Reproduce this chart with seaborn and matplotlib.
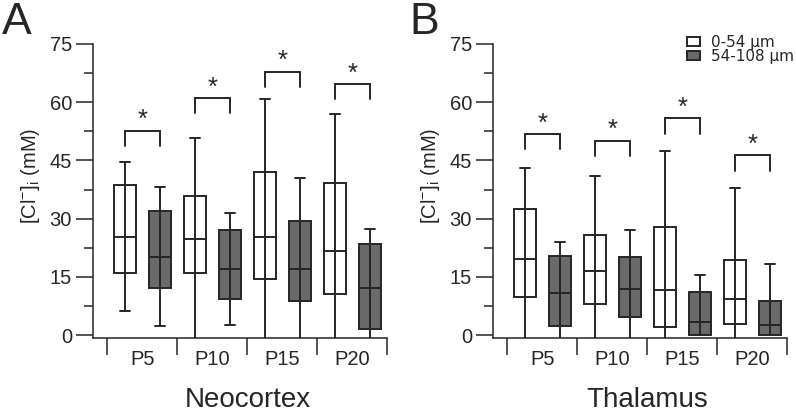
import numpy as np
import pandas as pd
import matplotlib
matplotlib.use("Agg")
import matplotlib.pyplot as plt
import seaborn as sns
from matplotlib.patches import Patch

ages = ["P5", "P10", "P15", "P20"]
depths = ["0-54 \u03bcm", "54-108 \u03bcm"]

# five-number summaries per age: min, q1, median, q3, max  ([Cl-]i, mM)
neo_shallow = [[6.1, 15.9, 25.4, 38.6, 44.5],
               [0.0, 15.9, 24.8, 35.9, 50.9],
               [0.0, 14.5, 25.3, 41.9, 60.8],
               [0.0, 10.7, 21.7, 39.2, 56.9]]
neo_deep = [[2.3, 12.1, 20.2, 31.9, 38.2],
            [2.6, 9.4, 17.0, 27.2, 31.4],
            [0.0, 8.8, 17.1, 29.5, 40.4],
            [0.0, 1.5, 12.2, 23.5, 27.3]]
thal_shallow = [[0.0, 9.9, 19.6, 32.6, 43.1],
                [0.0, 8.1, 16.4, 25.9, 41.1],
                [0.0, 2.0, 11.7, 27.9, 47.3],
                [0.0, 2.9, 9.4, 19.3, 37.9]]
thal_deep = [[0.0, 2.3, 10.9, 20.3, 24.1],
             [0.0, 4.8, 11.9, 20.0, 27.2],
             [0.0, 0.0, 3.5, 11.2, 15.6],
             [0.0, 0.0, 2.5, 8.8, 18.3]]

# significance bracket heights (mM)
neo_brackets = [52.7, 61.0, 67.9, 64.6]
thal_brackets = [51.8, 50.1, 55.8, 46.3]

sns.set_style("ticks")
plt.rcParams['font.family'] = ['Liberation Sans', 'DejaVu Sans']
plt.rcParams['mathtext.fontset'] = 'custom'
plt.rcParams['mathtext.rm'] = 'Liberation Sans'
plt.rcParams['mathtext.it'] = 'Liberation Sans:italic'
plt.rcParams['mathtext.default'] = 'regular'

EDGE = "#262626"
GRAY = "#6a6a6a"
LW = 1.4


def panel(ax, shallow, deep, brackets, region):
    rows = []
    for age, s, d in zip(ages, shallow, deep):
        rows += [(age, depths[0], v) for v in s]
        rows += [(age, depths[1], v) for v in d]
    df = pd.DataFrame(rows, columns=["age", "depth", "cl"])

    sns.boxplot(data=df, x="age", y="cl", hue="depth", order=ages, hue_order=depths,
                palette=["white", GRAY], saturation=1, width=1.0, gap=0.38,
                whis=(0, 100), linecolor=EDGE, linewidth=LW, legend=False, ax=ax)

    ax.set_ylim(-0.8, 75)
    ax.set_xlim(-0.71, 3.52)
    ybot = ax.get_ylim()[0]

    # whiskers that reach zero run down to the axis, without a cap
    for ln in list(ax.lines):
        yd = np.asarray(ln.get_ydata(), dtype=float)
        xd = np.asarray(ln.get_xdata(), dtype=float)
        if len(yd) == 2 and np.all(yd == 0) and xd[0] != xd[1]:
            ln.set_visible(False)
        elif len(yd) == 2 and xd[0] == xd[1] and yd.min() == 0:
            ln.set_ydata(np.where(yd == 0, ybot, yd))

    # whisker line continues through the box
    centers = []
    for p in ax.patches:
        ext = p.get_path().get_extents()
        xc = (ext.x0 + ext.x1) / 2
        centers.append(xc)
        ax.plot([xc, xc], [ext.y0, ext.y1], color=EDGE, lw=LW, zorder=3)
    centers = sorted(centers)

    # significance brackets
    for i, top in enumerate(brackets):
        x0, x1 = centers[2 * i], centers[2 * i + 1]
        ax.plot([x0, x0, x1, x1], [top - 3.9, top, top, top - 3.9],
                color=EDGE, lw=LW, solid_joinstyle="miter")
        ax.text(i, top + 0.9, "*", ha="center", va="baseline", fontsize=18.5)

    ax.set_yticks(np.arange(0, 76, 15))
    ax.set_yticks(np.arange(7.5, 75, 15), minor=True)
    ax.set_xticks(np.arange(-0.5, 4, 1))
    ax.set_xticklabels([])
    ax.set_xticks(range(len(ages)), minor=True)
    ax.set_xticklabels(ages, minor=True)
    ax.tick_params(axis="y", which="major", length=12, width=1.1, color=EDGE,
                   labelsize=14.5, pad=3)
    ax.tick_params(axis="y", which="minor", length=6.5, width=1.1, color=EDGE)
    ax.tick_params(axis="x", which="major", length=12, width=1.1, color=EDGE)
    ax.tick_params(axis="x", which="minor", length=0, labelsize=14.5, pad=8.5)
    sns.despine(ax=ax)
    for s in ["left", "bottom"]:
        ax.spines[s].set_linewidth(1.1)
        ax.spines[s].set_color(EDGE)
    ax.spines["left"].set_bounds(-0.8, 75)
    ax.spines["bottom"].set_bounds(-0.71, 3.5)

    ax.set_xlabel("")
    ax.set_ylabel(r"[Cl$^{-}$]$_{i}$ (mM)", fontsize=14.5)
    ax.yaxis.set_label_coords(-0.17, 0.55)
    ax.text(1.5, -0.232, region, transform=ax.get_xaxis_transform(),
            ha="center", va="baseline", fontsize=20)


fig = plt.figure(figsize=(7.96, 4.13), dpi=100)
axA = fig.add_axes([0.1165, 0.181, 0.372, 0.7126])
axB = fig.add_axes([0.619, 0.181, 0.372, 0.7126])

panel(axA, neo_shallow, neo_deep, neo_brackets, "Neocortex")
panel(axB, thal_shallow, thal_deep, thal_brackets, "Thalamus")

fig.text(0.003, 1 - 34 / 413, "A", fontsize=32, va="baseline", ha="left")
fig.text(0.514, 1 - 34 / 413, "B", fontsize=32, va="baseline", ha="left")

handles = [Patch(facecolor="white", edgecolor=EDGE, lw=LW),
           Patch(facecolor=GRAY, edgecolor=EDGE, lw=LW)]
fig.legend(handles, depths, loc="upper left", bbox_to_anchor=(687 / 796, 1 - 35 / 413),
           frameon=False, prop={"family": "DejaVu Sans", "size": 11},
           handlelength=0.85, handleheight=0.5, handletextpad=0.7,
           labelspacing=-0.05, borderpad=0, borderaxespad=0)

fig.savefig("out.png", dpi=100)
